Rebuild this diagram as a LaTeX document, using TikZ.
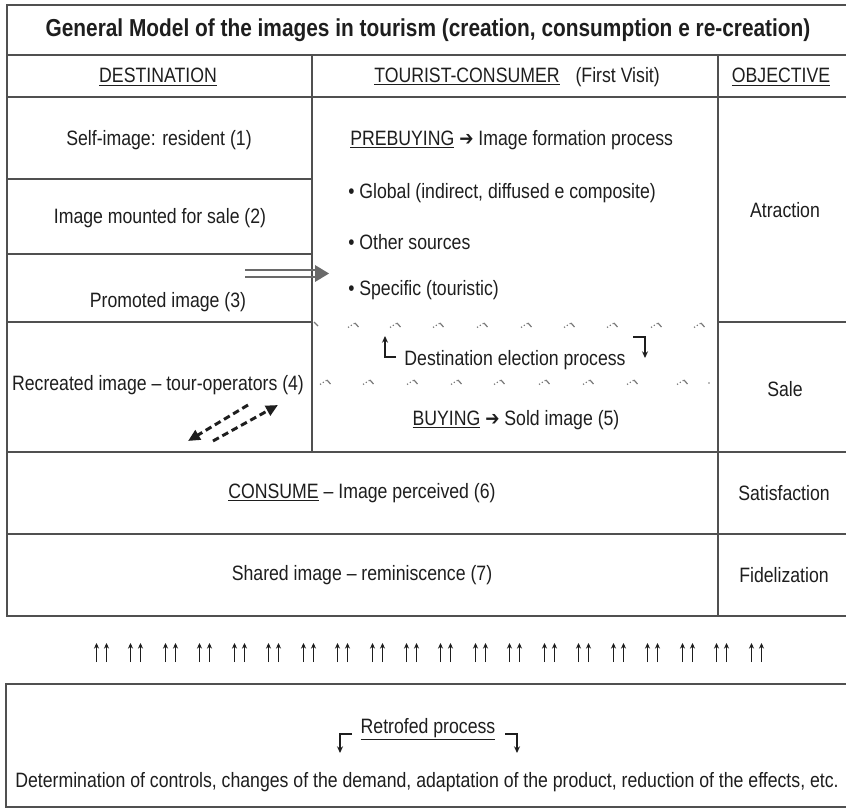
\documentclass[tikz,border=0pt]{standalone}
\usepackage{fontspec}
\setmainfont{Liberation Sans}[FakeStretch=0.85]
\newfontfamily\symfont{DejaVu Sans}[FakeStretch=0.85]
\usetikzlibrary{arrows.meta}
\definecolor{ink}{HTML}{1E1E1E}
\definecolor{rulec}{HTML}{505050}
\definecolor{dotc}{HTML}{7A7A7A}
\definecolor{dbl}{HTML}{6A6A6A}
\begin{document}
\begin{tikzpicture}[x=0.75pt,y=-0.75pt,
  txt/.style={font=\fontsize{15.6}{18}\selectfont, text=ink, inner sep=0pt},
  ttl/.style={font=\fontsize{18.4}{22}\selectfont\bfseries, text=ink, inner sep=0pt},
  grid/.style={draw=rulec, line width=1.1pt},
  dotrise/.style={draw=dotc, line width=0.9pt, dash pattern=on 0.9pt off 1.6pt},
  dotfall/.style={draw=dotc, line width=0.9pt},
  chevron/.pic={\path[dotrise] (-7,2.5) -- (0,-2); \path[dotfall] (0,-2) -- (3.5,2);},
  dashar/.style={draw=ink, line width=2.2pt, dash pattern=on 5pt off 3pt, -{Triangle[length=9pt,width=8pt]}},
  upar/.style={draw=ink, line width=1.05pt, -{Stealth[length=4.2pt,width=3.8pt]}},
  bentar/.style={draw=ink, line width=1.1pt, -{Stealth[length=5pt,width=4.5pt]}},
]
\useasboundingbox (0,0) rectangle (846,812);
\fill[white] (0,0) rectangle (846,812);

% ---------- main table ----------
\draw[grid] (846,5) -- (7,5) -- (7,616) -- (846,616);
\draw[grid] (7,55) -- (846,55);
\draw[grid] (7,97) -- (846,97);
\draw[grid] (7,179) -- (312,179);
\draw[grid] (7,254) -- (312,254);
\draw[grid] (7,322) -- (312,322);
\draw[grid] (718,322) -- (846,322);
\draw[grid] (7,452) -- (846,452);
\draw[grid] (7,534) -- (846,534);
\draw[grid] (312,55) -- (312,452);
\draw[grid] (718,55) -- (718,616);

% ---------- title and header ----------
\node[ttl] (title) at (428,30) {General Model of the images in tourism (creation, consumption e re-creation)};
\node[txt] (hdest) at (158,77) {\underline{DESTINATION}};
\node[txt] (htour) at (517,77) {\underline{TOURIST-CONSUMER}\hspace{12pt}(First Visit)};
\node[txt] (hobj) at (781,77) {\underline{OBJECTIVE}};

% ---------- destination column ----------
\node[txt] (d1) at (159,140) {Self-image: resident (1)};
\node[txt] (d2) at (160,218) {Image mounted for sale (2)};
\node[txt] (d3) at (168,302) {Promoted image (3)};
\node[txt] (d4) at (158,385) {Recreated image – tour-operators (4)};

% ---------- tourist column ----------
\node[txt, anchor=west] (pre) at (350,140) {\underline{PREBUYING} {\symfont\fontsize{15}{16}\selectfont ➔} Image formation process};
\node[txt, anchor=west] (g1) at (348,193) {• Global (indirect, diffused e composite)};
\node[txt, anchor=west] (g2) at (348,242) {• Other sources};
\node[txt, anchor=west] (g3) at (348,290) {• Specific (touristic)};
\node[txt] (elect) at (515,360) {Destination election process};
\node[txt] (buy) at (516,420) {\underline{BUYING} {\symfont\fontsize{15}{16}\selectfont ➔} Sold image (5)};

% dotted chevron rows
\path[dotfall] (314,322) -- (318,326);
\foreach \cx in {355,397,440,484,528,571,614,658,701}
  \pic at (\cx,325) {chevron};
\foreach \cx in {327,370,414,458,501,546,590,634,684}
  \pic at (\cx,382) {chevron};
\fill[dotc] (709,383) circle (0.9);

% bent arrows around "Destination election process"
\coordinate (eL) at (396,357);
\coordinate (eR) at (633,337);
\draw[bentar] (eL) -- ++(-11,0) -- ++(0,-21);
\draw[bentar] (eR) -- ++(12,0) -- ++(0,21);

% double arrow from destination to tourist
\coordinate (da) at (245,273.5);
\coordinate (db) at (329,273.5);
\draw[dbl, line width=1.4pt] (245,270) -- (318,270);
\draw[dbl, line width=1.4pt] (245,277) -- (318,277);
\fill[dbl] (315,265) -- (db) -- (315,282) -- cycle;

% dashed two-way arrows
\coordinate (p1s) at (248,405);
\coordinate (p1e) at (188,441);
\coordinate (p2s) at (213,441);
\coordinate (p2e) at (278,405);
\draw[dashar] (p1s) -- (p1e);
\draw[dashar] (p2s) -- (p2e);

% ---------- objective column ----------
\node[txt] (o1) at (785,210) {Atraction};
\node[txt] (o2) at (785,389) {Sale};
\node[txt] (o3) at (784,493) {Satisfaction};
\node[txt] (o4) at (784,575) {Fidelization};

% ---------- consume / shared ----------
\node[txt] (c6) at (362,493) {\underline{CONSUME} – Image perceived (6)};
\node[txt] (c7) at (362,575) {Shared image – reminiscence (7)};

% ---------- arrows row ----------
\foreach \i in {0,...,19} {
  \pgfmathsetmacro{\ax}{round(101+34.45*\i)+0.5}
  \draw[upar] ({\ax-5},662) -- ++(0,-19);
  \draw[upar] ({\ax+5},662) -- ++(0,-19);
}

% ---------- bottom box ----------
\draw[grid] (846,684) -- (6,684) -- (6,807) -- (846,807);
\node[txt] (retro) at (428,729) {\underline{Retrofed process}};
\coordinate (rL) at (352,734);
\coordinate (rR) at (505,734);
\draw[bentar] (rL) -- ++(-12,0) -- ++(0,19);
\draw[bentar] (rR) -- ++(12,0) -- ++(0,19);
\node[txt] (det) at (427,782) {Determination of controls, changes of the demand, adaptation of the product, reduction of the effects, etc.};
\end{tikzpicture}
\end{document}
